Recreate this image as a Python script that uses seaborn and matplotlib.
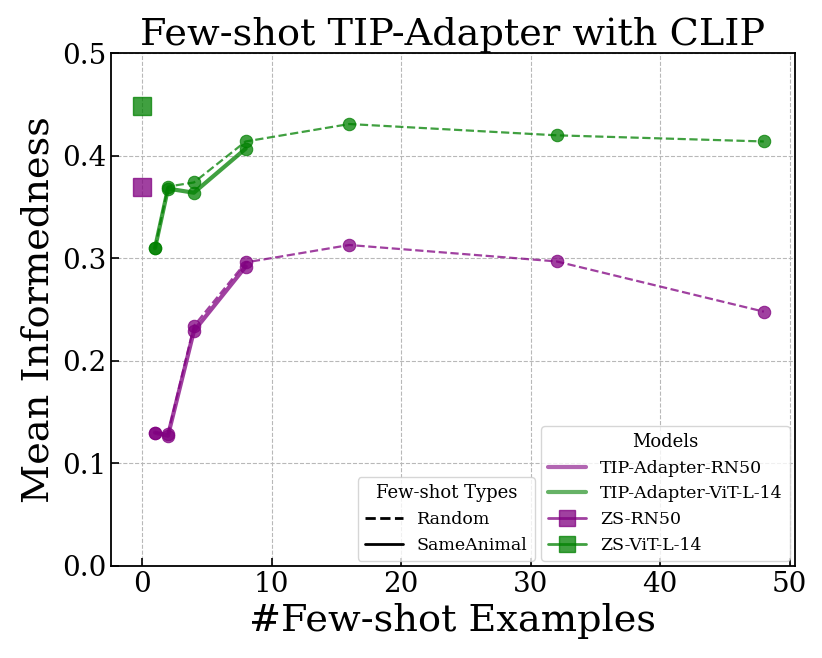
import matplotlib
matplotlib.use("Agg")
import matplotlib.pyplot as plt
import seaborn as sns
import pandas as pd
from matplotlib.lines import Line2D

# data
shots = [1, 2, 4, 8, 16, 32, 48]
rn50_random = [0.130, 0.129, 0.234, 0.296, 0.313, 0.297, 0.248]
vit_random = [0.310, 0.370, 0.374, 0.414, 0.431, 0.420, 0.414]

shots_same = [1, 2, 4, 8]
rn50_same = [0.130, 0.127, 0.229, 0.292]
vit_same = [0.310, 0.368, 0.364, 0.407]

zs_models = ["ZS-RN50", "ZS-ViT-L-14"]
zs_values = [0.370, 0.449]

purple = "purple"
green = "green"

sns.set_style("ticks")
plt.rcParams['font.family'] = ['DejaVu Serif']
plt.rcParams.update({"text.color": "black", "axes.labelcolor": "black",
                     "xtick.color": "black", "ytick.color": "black"})

fig = plt.figure(figsize=(8.22, 6.58), dpi=100)
ax = fig.add_axes([0.135, 0.140, 0.832, 0.779])

df_random = pd.DataFrame({"shots": shots, "RN50": rn50_random, "ViT": vit_random})
df_same = pd.DataFrame({"shots": shots_same, "RN50": rn50_same, "ViT": vit_same})

for col, c in [("RN50", purple), ("ViT", green)]:
    sns.lineplot(data=df_random, x="shots", y=col, ax=ax, color=c, alpha=0.75,
                 linestyle="--", linewidth=1.6, marker="o", markersize=9,
                 markeredgecolor=c, zorder=3)
    sns.lineplot(data=df_same, x="shots", y=col, ax=ax, color=c, alpha=0.75,
                 linestyle="-", linewidth=3, marker="o", markersize=9,
                 markeredgecolor=c, zorder=3)

for name, v, c in zip(zs_models, zs_values, [purple, green]):
    ax.plot([0], [v], marker="s", markersize=13, color=c, alpha=0.75,
            markeredgecolor=c, linestyle="none", zorder=4)

ax.set_ylim(0, 0.5)
ax.set_xlim(-2.4, 50.4)
ax.set_xticks([0, 10, 20, 30, 40, 50])
ax.set_yticks([0.0, 0.1, 0.2, 0.3, 0.4, 0.5])
ax.grid(True, linestyle="--", color="#b8b8b8", linewidth=0.8)
ax.set_axisbelow(True)
ax.tick_params(direction="in", labelsize=20, length=6, width=1.2)
for s in ax.spines.values():
    s.set_linewidth(1.3)
    s.set_color("black")

ax.set_title("Few-shot TIP-Adapter with CLIP", fontsize=27.5)
ax.set_xlabel("#Few-shot Examples", fontsize=27.5)
ax.set_ylabel("Mean Informedness", fontsize=27.5)

model_handles = [
    Line2D([], [], color=purple, alpha=0.6, lw=3, label="TIP-Adapter-RN50"),
    Line2D([], [], color=green, alpha=0.6, lw=3, label="TIP-Adapter-ViT-L-14"),
    Line2D([], [], color=purple, alpha=0.75, lw=2, marker="s", markersize=12,
           label="ZS-RN50"),
    Line2D([], [], color=green, alpha=0.75, lw=2, marker="s", markersize=12,
           label="ZS-ViT-L-14"),
]
leg1 = ax.legend(handles=model_handles, title="Models", loc="lower right",
                 fontsize=12.5, title_fontsize=13, framealpha=0.8,
                 borderaxespad=0.3, handlelength=2.2)
ax.add_artist(leg1)

type_handles = [
    Line2D([], [], color="black", lw=2, linestyle="--", label="Random"),
    Line2D([], [], color="black", lw=2, linestyle="-", label="SameAnimal"),
]
ax.legend(handles=type_handles, title="Few-shot Types", loc="lower right",
          bbox_to_anchor=(0.627, 0.0), fontsize=12.5, title_fontsize=13,
          framealpha=0.8, borderaxespad=0.3, handlelength=2.2)

fig.savefig("out.png", dpi=100)
